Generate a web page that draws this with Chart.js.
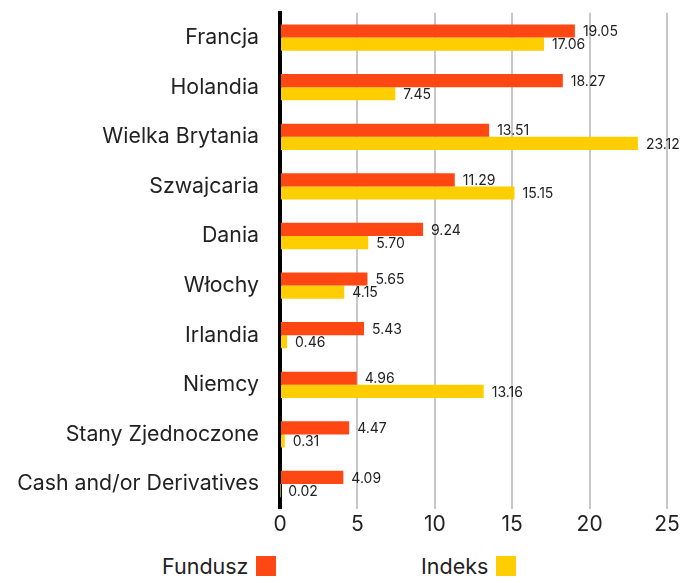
<!DOCTYPE html>
<html>
<head>
<meta charset="utf-8">
<script src="https://cdn.jsdelivr.net/npm/chart.js@4"></script>
<style>
  html, body { margin: 0; padding: 0; background: #fff; }
  #wrap { position: relative; width: 699px; height: 583px; }
  #chart { position: absolute; left: 0; top: 0; }
  .legend { position: absolute; top: 553px; display: flex; align-items: center;
    font-family: Inter, "Noto Sans", sans-serif; font-size: 21.5px; color: #222; }
  .legend span.box { display: inline-block; width: 20px; height: 20px; margin-left: 8px; }
</style>
</head>
<body>
<div id="wrap">
  <canvas id="chart" width="699" height="540"></canvas>
  <div class="legend" id="leg0" style="left:162px"></div>
  <div class="legend" id="leg1" style="left:421px"></div>
</div>
<script>
const categories = ["Francja", "Holandia", "Wielka Brytania", "Szwajcaria", "Dania",
  "Włochy", "Irlandia", "Niemcy", "Stany Zjednoczone", "Cash and/or Derivatives"];
const fundusz = [19.05, 18.27, 13.51, 11.29, 9.24, 5.65, 5.43, 4.96, 4.47, 4.09];
const indeks = [17.06, 7.45, 23.12, 15.15, 5.70, 4.15, 0.46, 13.16, 0.31, 0.02];
const seriesNames = ["Fundusz", "Indeks"];
const seriesColors = ["#FF4713", "#FFCE00"];
const xTicks = [0, 5, 10, 15, 20, 25];

const font = "Inter, 'Noto Sans', sans-serif";

const valueLabels = {
  id: "valueLabels",
  afterDatasetsDraw(chart) {
    const ctx = chart.ctx;
    ctx.save();
    ctx.font = "14px " + font;
    ctx.fillStyle = "#222";
    ctx.textBaseline = "middle";
    chart.data.datasets.forEach((ds, i) => {
      chart.getDatasetMeta(i).data.forEach((bar, j) => {
        ctx.fillText(ds.data[j].toFixed(2), bar.x + 8, bar.y + 1);
      });
    });
    ctx.restore();
  }
};

new Chart(document.getElementById("chart"), {
  type: "bar",
  data: {
    labels: categories,
    datasets: [
      { label: seriesNames[0], data: fundusz, backgroundColor: seriesColors[0] },
      { label: seriesNames[1], data: indeks, backgroundColor: seriesColors[1] }
    ]
  },
  options: {
    indexAxis: "y",
    responsive: false,
    animation: false,
    layout: { padding: { top: 0, right: 32, left: 0 } },
    datasets: { bar: { categoryPercentage: 0.53, barPercentage: 1 } },
    plugins: { legend: { display: false }, tooltip: { enabled: false } },
    scales: {
      x: {
        min: 0, max: 25,
        afterBuildTicks: s => { s.ticks = xTicks.map(v => ({ value: v })); },
        grid: { color: "#c8c8c8", lineWidth: 2, drawTicks: false },
        border: { display: false },
        ticks: { color: "#222", font: { family: font, size: 21 }, padding: 3 }
      },
      y: {
        afterFit: s => { s.width = 280; },
        grid: { drawOnChartArea: false, drawTicks: true, tickLength: 21, color: "rgba(0,0,0,0)" },
        border: { color: "#000", width: 4 },
        ticks: { color: "#222", font: { family: font, size: 21.3 }, padding: 0 }
      }
    }
  },
  plugins: [valueLabels]
});

seriesNames.forEach((n, i) => {
  const el = document.getElementById("leg" + i);
  el.innerHTML = n + '<span class="box" style="background:' + seriesColors[i] + '"></span>';
});
</script>
</body>
</html>
